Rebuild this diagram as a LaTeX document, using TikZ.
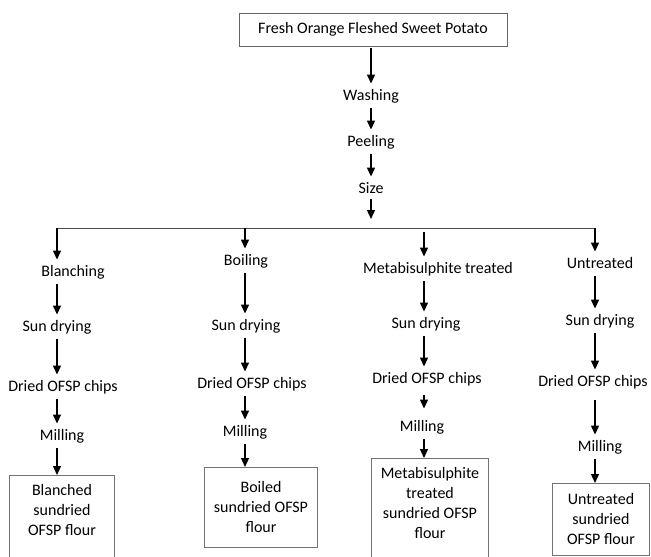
\documentclass[tikz,border=0pt]{standalone}
\usepackage{fontspec}
\setmainfont{Carlito}
\usetikzlibrary{arrows.meta}
\tikzstyle{stage}=[inner sep=2pt,text height=11pt,text depth=3.5pt,font=\fontsize{16}{20}\selectfont]
\tikzstyle{product}=[draw=black!55,line width=0.9pt,align=center,anchor=north,inner xsep=2pt,inner ysep=9pt,font=\fontsize{16}{20}\selectfont]
\tikzstyle{flow}=[-{Triangle[width=8pt,length=9pt]},line width=1.3pt,shorten <=2pt,shorten >=4pt]
\tikzstyle{branch}=[draw=black!70,line width=1pt]
\newcommand{\flowunit}{1pt}

\begin{document}
\begin{tikzpicture}[x=\flowunit,y=-\flowunit]
    \useasboundingbox (0,0) rectangle (651,557);
    % trunk
    \node[draw=black!60,line width=0.9pt,minimum width=268pt,minimum height=33pt,
          font=\fontsize{16}{20}\selectfont] (FO) at (373,29.5) {Fresh Orange Fleshed Sweet Potato};
    \node[stage] (W)  at (371,97)  {Washing};
    \node[stage] (Pe) at (371,143) {Peeling};
    \node[stage] (Si) at (371,190) {Size};
    \coordinate (Sz) at (371,219);
    \draw[flow] (FO.south -| W) -- (W);
    \draw[flow] (W) -- (Pe);
    \draw[flow] (Pe) -- (Si);
    \draw[flow,shorten <=0pt,shorten >=0pt] (Si) -- (Sz);
    % split
    \coordinate (L)  at (57,228);
    \coordinate (K2) at (245,228);
    \coordinate (K3) at (424,232);
    \coordinate (R)  at (595,228);
    \draw[branch] (L) -- (R);
    % blanching
    \node[stage] (B1) at (73,273) {Blanching};
    \node[stage] (B2) at (57,328) {Sun drying};
    \node[stage] (B3) at (63,388) {Dried OFSP chips};
    \node[stage] (B4) at (62,437) {Milling};
    \node[product,minimum width=105pt,text depth=20pt] (B5) at (62,475) {Blanched\\sundried\\OFSP flour};
    \draw[flow,shorten <=0pt] (L) -- (B1.north -| L);
    \draw[flow] (B1.south -| L) -- (B2.north -| L);
    \draw[flow] (B2.south -| L) -- (B3.north -| L);
    \draw[flow] (B3.south -| L) -- (B4.north -| L);
    \draw[flow,shorten >=0pt] (B4.south -| L) -- (B5.north -| L);
    % boiling
    \node[stage] (C1) at (246,262) {Boiling};
    \node[stage] (C2) at (246,327) {Sun drying};
    \node[stage] (C3) at (252,385) {Dried OFSP chips};
    \node[stage] (C4) at (245,433) {Milling};
    \node[product,minimum width=113pt,minimum height=80pt] (C5) at (261,467) {Boiled\\sundried OFSP\\flour};
    \draw[flow,shorten <=0pt] (K2) -- (C1.north -| K2);
    \draw[flow] (C1.south -| K2) -- (C2.north -| K2);
    \draw[flow] (C2.south -| K2) -- (C3.north -| K2);
    \draw[flow] (C3.south -| K2) -- (C4.north -| K2);
    \draw[flow,shorten >=0pt] (C4.south -| K2) -- (C5.north -| K2);
    % metabisulphite
    \node[stage] (M1) at (438,270) {Metabisulphite treated};
    \node[stage] (M2) at (426,325) {Sun drying};
    \node[stage] (M3) at (427,380) {Dried OFSP chips};
    \node[stage] (M4) at (422,428) {Milling};
    \node[product,minimum width=117pt,text depth=20pt] (M5) at (430,458) {Metabisulphite\\treated\\sundried OFSP\\flour};
    \draw[flow,shorten <=0pt] (K3) -- (M1.north -| K3);
    \draw[flow] (M1.south -| K3) -- (M2.north -| K3);
    \draw[flow] (M2.south -| K3) -- (M3.north -| K3);
    \draw[flow,shorten <=6pt,shorten >=10pt] (M3.south -| K3) -- (M4.north -| K3);
    \draw[flow,shorten >=0pt] (M4.south -| K3) -- (M5.north -| K3);
    % untreated
    \node[stage] (U1) at (600,265) {Untreated};
    \node[stage] (U2) at (600,322) {Sun drying};
    \node[stage] (U3) at (593,383) {Dried OFSP chips};
    \node[stage] (U4) at (600,448) {Milling};
    \node[product,minimum width=97pt,minimum height=72pt] (U5) at (601,483) {Untreated\\sundried\\OFSP flour};
    \draw[flow,shorten <=0pt] (R) -- (U1.north -| R);
    \draw[flow] (U1.south -| R) -- (U2.north -| R);
    \draw[flow] (U2.south -| R) -- (U3.north -| R);
    \draw[flow,shorten <=8pt] (U3.south -| R) -- (U4.north -| R);
    \draw[flow,shorten >=0pt] (U4.south -| R) -- (U5.north -| R);
\end{tikzpicture}
\end{document}
